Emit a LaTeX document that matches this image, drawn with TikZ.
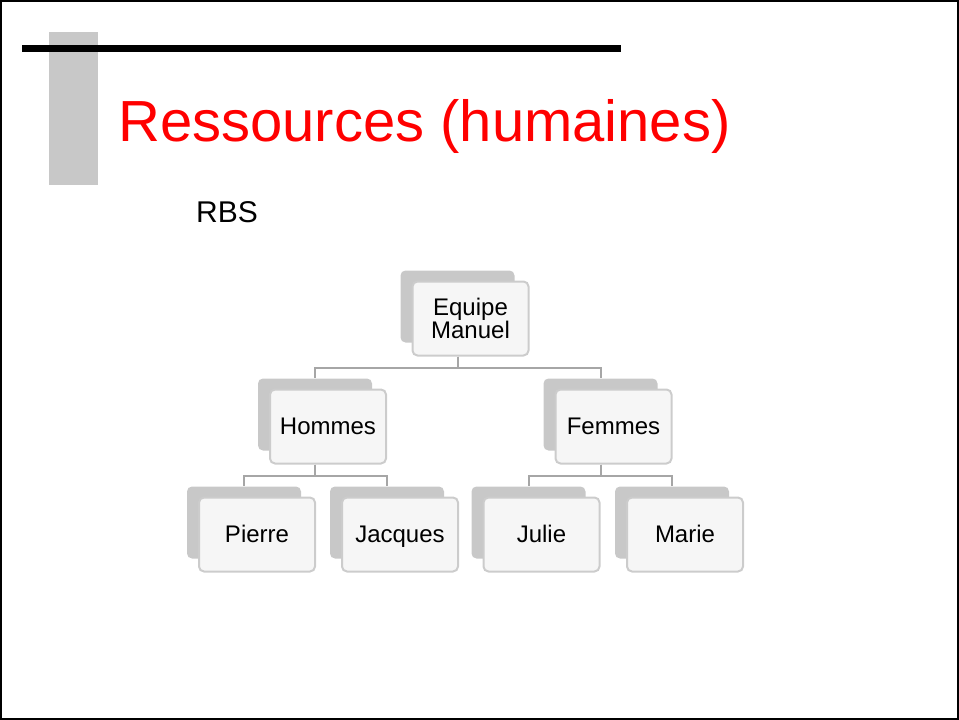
\documentclass[tikz,border=0pt]{standalone}
\usepackage{fontspec}
\setmainfont{Liberation Sans}
\definecolor{barg}{RGB}{200,200,200}
\definecolor{boxline}{RGB}{204,204,204}
\definecolor{boxfill}{RGB}{246,246,246}
\definecolor{conng}{RGB}{166,166,166}
\definecolor{titlered}{RGB}{255,0,0}
\begin{document}
\begin{tikzpicture}[x=1pt,y=-1pt,
  shadowbox/.style={rectangle, fill=barg, rounded corners=5pt, minimum width=114pt, minimum height=72pt, inner sep=0pt},
  mainbox/.style={rectangle, draw=boxline, line width=2pt, fill=boxfill, rounded corners=5pt, minimum width=116pt, minimum height=74pt, inner sep=0pt, align=center, font=\fontsize{24}{22}\selectfont},
  onebox/.style={mainbox, text height=17pt, text depth=2pt},
  conn/.style={draw=conng, line width=2pt}]
\useasboundingbox (0,0) rectangle (959,720);
\draw[black, line width=2pt] (1,1) rectangle (958,719);
% decoration
\fill[barg] (49,32) rectangle (98,185);
\fill[black] (22,45) rectangle (621,52);
\node[anchor=base west, inner sep=0pt, text=titlered, font=\fontsize{58}{70}\selectfont] (title) at (118,141) {Ressources (humaines)};
\node[anchor=base west, inner sep=0pt, font=\fontsize{30}{36}\selectfont] (rbs) at (196,222) {RBS};
% centers
\coordinate (ce) at (470.5,318.5);
\coordinate (ch) at (328,426.5);
\coordinate (cf) at (613.5,426.5);
\coordinate (cp) at (257,534.5);
\coordinate (cj) at (400,534.5);
\coordinate (cu) at (541.5,534.5);
\coordinate (cm) at (685,534.5);
% shadows
\node[shadowbox] (es) at ([shift={(-13,-12)}]ce) {};
\node[shadowbox] (hs) at ([shift={(-13,-12)}]ch) {};
\node[shadowbox] (fs) at ([shift={(-13,-12)}]cf) {};
\node[shadowbox] (ps) at ([shift={(-13,-12)}]cp) {};
\node[shadowbox] (js) at ([shift={(-13,-12)}]cj) {};
\node[shadowbox] (us) at ([shift={(-13,-12)}]cu) {};
\node[shadowbox] (ms) at ([shift={(-13,-12)}]cm) {};
% main boxes
\node[mainbox] (e) at (ce) {Equipe\\Manuel};
\node[onebox] (h) at (ch) {Hommes};
\node[onebox] (f) at (cf) {Femmes};
\node[onebox] (p) at (cp) {Pierre};
\node[onebox] (j) at (cj) {Jacques};
\node[onebox] (u) at (cu) {Julie};
\node[onebox] (m) at (cm) {Marie};
% connectors
\draw[conn] (es.south |- e.south) -- ++(0,11) -| (hs.north);
\draw[conn] (es.south |- e.south) -- ++(0,11) -| (fs.north);
\draw[conn] (hs.south |- h.south) -- ++(0,11) -| (ps.north);
\draw[conn] (hs.south |- h.south) -- ++(0,11) -| (js.north);
\draw[conn] (fs.south |- f.south) -- ++(0,11) -| (us.north);
\draw[conn] (fs.south |- f.south) -- ++(0,11) -| (ms.north);
\end{tikzpicture}
\end{document}
